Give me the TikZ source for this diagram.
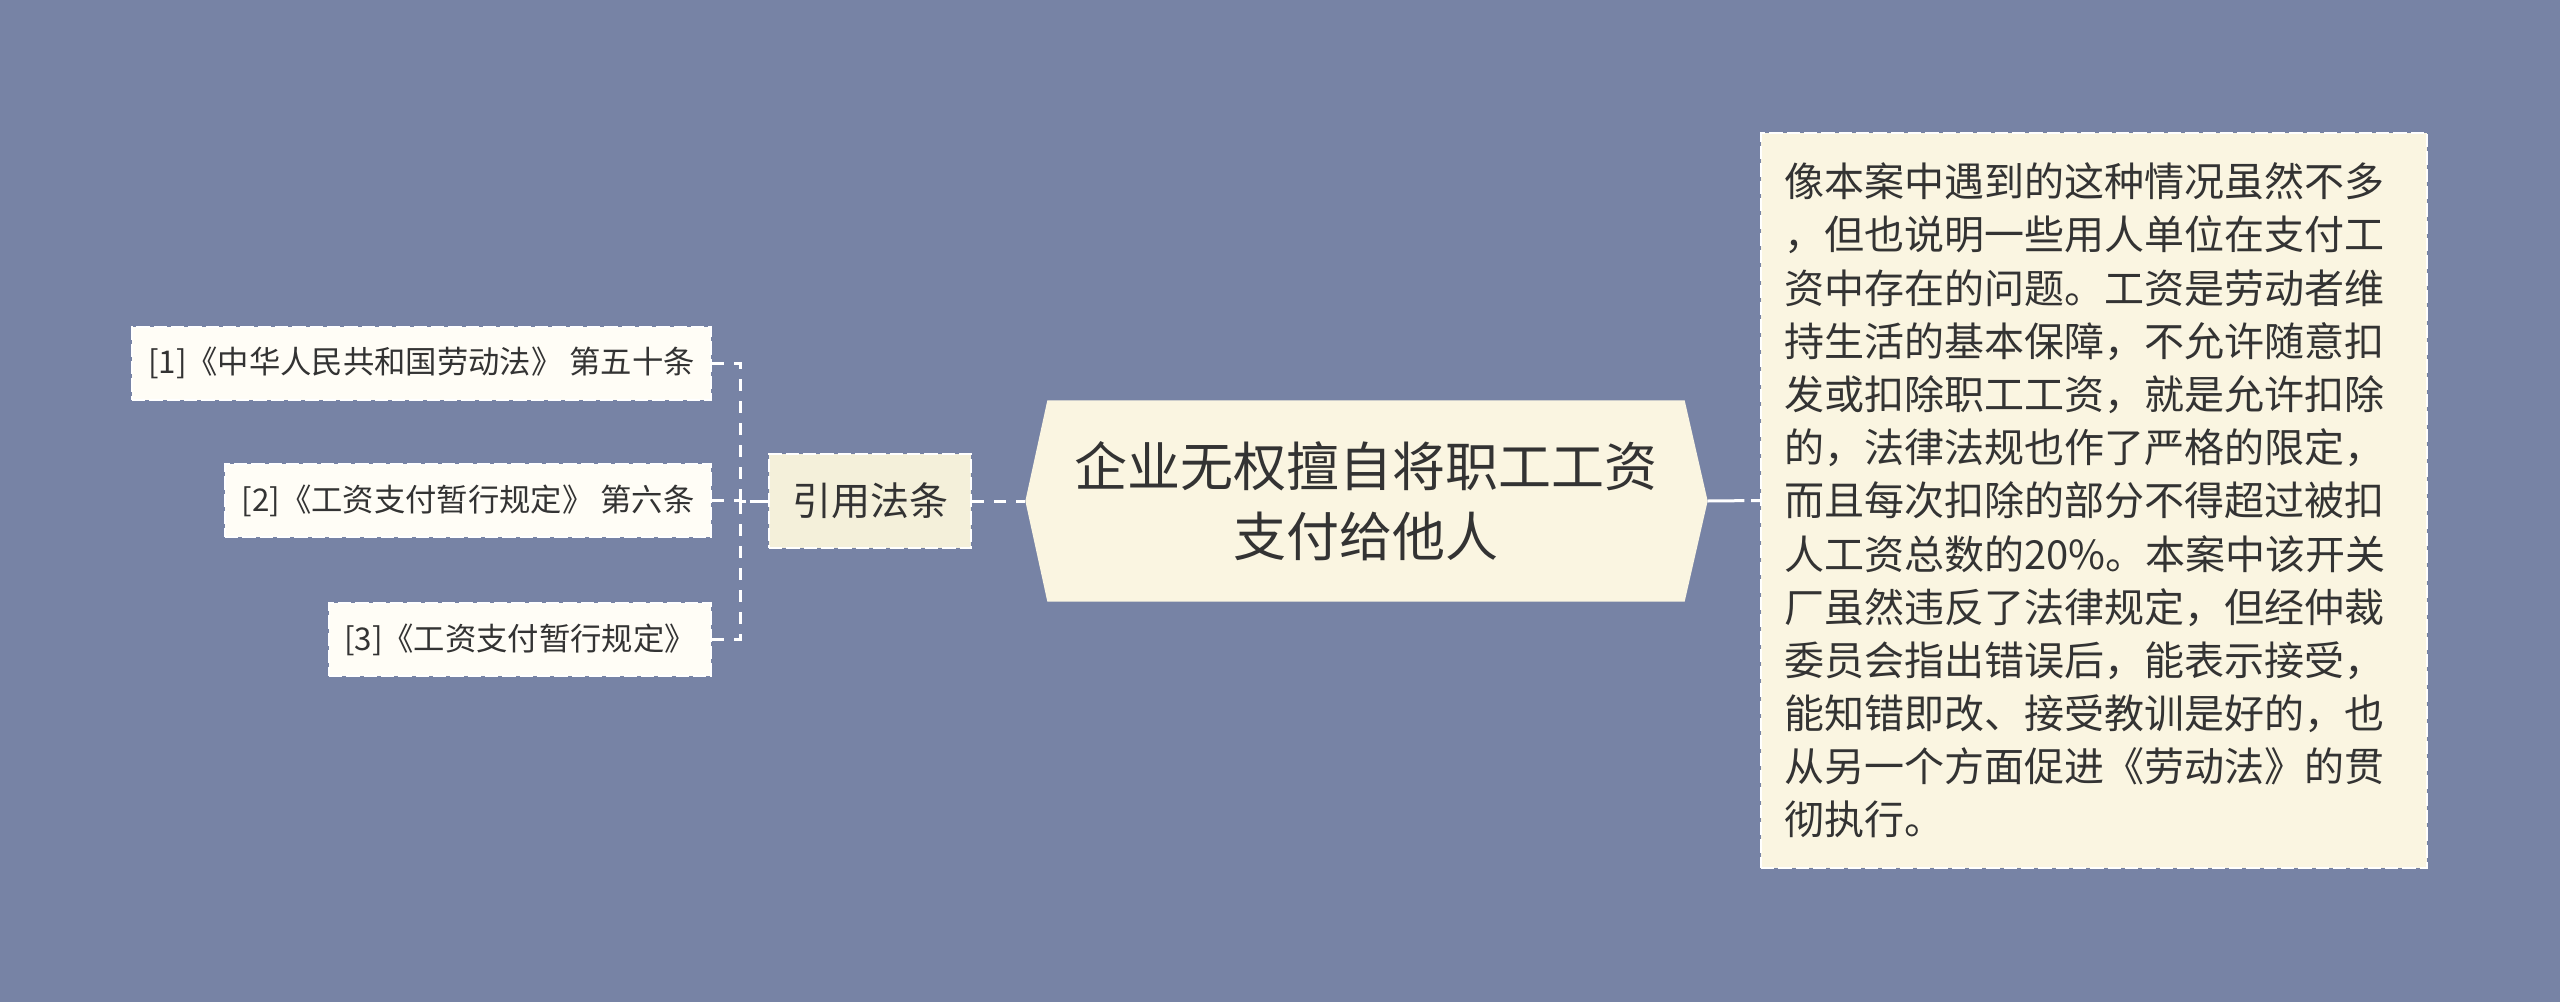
\documentclass[tikz,border=0pt]{standalone}
\usepackage{fontspec}
\setmainfont{Noto Sans CJK SC}
\usetikzlibrary{calc}
\usetikzlibrary{backgrounds}
\definecolor{bg}{HTML}{7783A5}
\definecolor{ink}{HTML}{333333}
\definecolor{rootfill}{HTML}{FAF5E1}
\definecolor{citefill}{HTML}{F4F0DA}
\definecolor{lawfill}{HTML}{FFFDF6}
\definecolor{notefill}{HTML}{FAF5E1}

\begin{document}
\begin{tikzpicture}[x=0.3pt, y=-0.3pt,
      box/.style={rectangle, text=ink, inner sep=0pt},
          law/.style={box, fill=lawfill, draw=white, line width=0.6pt, dash pattern=on 4pt off 1.2pt,
            minimum height=21.9pt, font=\fontsize{9.4pt}{11pt}\selectfont},
          cite/.style={box, fill=citefill, draw=white, line width=0.6pt, dash pattern=on 4pt off 1.2pt,
            minimum width=60.6pt, minimum height=28.2pt, font=\fontsize{11.7pt}{14pt}\selectfont},
          root/.style={box, minimum width=190.8pt, minimum height=60pt, align=center,
            font=\fontsize{15.9pt}{21pt}\selectfont},
          note/.style={box, fill=notefill, draw=white, line width=0.6pt, dash pattern=on 4pt off 1.2pt,
            text width=186pt, inner xsep=6.9pt, minimum height=220.5pt, align=left,
            font=\fontsize{12pt}{15.96pt}\selectfont},
      link/.style={draw=white, line width=0.9pt, dash pattern=on 3.6pt off 3pt},
      ]
        \begin{pgfonlayer}{background}
          \fill[bg] (0,0) rectangle (2560,1002);
        \end{pgfonlayer}
        \useasboundingbox (0,0) rectangle (2560,1002);

        \node[root] (root) at (1366,501) {企业无权擅自将职工工资\\支付给他人};
        \coordinate (root-l) at ($(root.west)+(-22,0)$);
        \coordinate (root-r) at ($(root.east)+(23,0)$);
        \begin{pgfonlayer}{background}
          \fill[rootfill] (root.north west) -- (root.north east) -- (root-r)
            -- (root.south east) -- (root.south west) -- (root-l) -- cycle;
        \end{pgfonlayer}

        \node[cite] (cite) at (870,501) {引用法条};

        \node[law, minimum width=173.7pt, anchor=east] (law1) at (712,363) {[1]《中华人民共和国劳动法》 第五十条};
        \node[law, minimum width=145.8pt, anchor=east] (law2) at (712,500.5) {[2]《工资支付暂行规定》 第六条};
        \node[law, minimum width=114.6pt, anchor=east] (law3) at (712,639.5) {[3]《工资支付暂行规定》};

        \node[note] (note) at (2094,500.5) {像本案中遇到的这种情况虽然不多\\
          ，但也说明一些用人单位在支付工\\
          资中存在的问题。工资是劳动者维\\
          持生活的基本保障，不允许随意扣\\
          发或扣除职工工资，就是允许扣除\\
          的，法律法规也作了严格的限定，\\
          而且每次扣除的部分不得超过被扣\\
          人工资总数的20\%。本案中该开关\\
          厂虽然违反了法律规定，但经仲裁\\
          委员会指出错误后，能表示接受，\\
          能知错即改、接受教训是好的，也\\
          从另一个方面促进《劳动法》的贯\\
          彻执行。};

        \coordinate (fork) at ($(cite.west)+(-28,0)$);
        \foreach \i in {1,2,3}
          \draw[link] (law\i.east) -| (fork) -- (cite.west);

        \draw[link] (cite.east) -- (root-l);
        \draw[link, dash pattern=on 11pt off 2pt] (root-r) -- (note.west);

        \end{tikzpicture}
\end{document}
